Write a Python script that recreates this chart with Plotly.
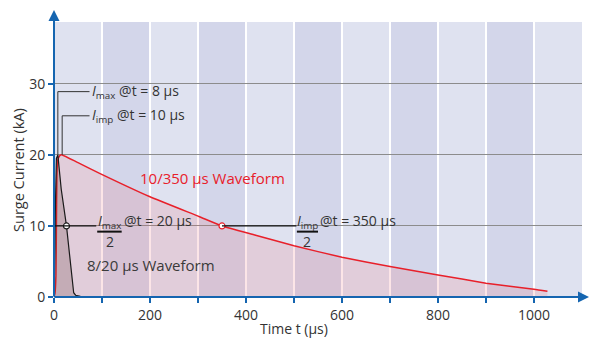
import plotly.graph_objects as go

# ---- data ----
t_10_350 = [0, 2, 4, 5, 6, 8, 12, 17, 50, 95, 200, 303, 350, 420, 500, 600, 700, 800, 900, 1000, 1028]
i_10_350 = [0, 0.5, 3, 10, 17, 19.3, 19.9, 20, 18.9, 17.4, 14.1, 11.3, 10, 8.7, 7.2, 5.6, 4.3, 3.1, 1.95, 1.1, 0.8]

t_8_20 = [0, 1, 2, 3, 4, 5, 8, 15, 26, 35, 41, 45, 55, 70]
i_8_20 = [0, 2, 7, 13, 17, 19.5, 20, 15.2, 10, 4.2, 0.6, 0.25, 0.1, 0.04]

peak_8_20 = (8, 20)
peak_10_350 = (17, 20)
half_8_20 = (26, 10)
half_10_350 = (350, 10)

x_ticks = list(range(0, 1001, 100))
x_tick_text = [str(v) if v % 200 == 0 else "" for v in x_ticks]
y_ticks = [0, 10, 20, 30]

X_MAX = 1100
Y_MAX = 38.7

FONT = "Open Sans"
FS = 14
TXT = "#333333"
BLUE = "#1565b0"
RED = "#e8202a"

fig = go.Figure()

# 10/350 waveform
fig.add_trace(go.Scatter(
    x=t_10_350, y=i_10_350, mode="lines",
    line=dict(color=RED, width=1.5, shape="spline", smoothing=0.4),
    fill="tozeroy", fillcolor="rgba(235,100,110,0.17)",
    hoverinfo="skip", showlegend=False))

# 8/20 waveform
fig.add_trace(go.Scatter(
    x=t_8_20, y=i_8_20, mode="lines",
    line=dict(color="#1a1a1a", width=1.2),
    fill="tozeroy", fillcolor="rgba(80,40,40,0.2)",
    hoverinfo="skip", showlegend=False))

# half-value markers
fig.add_trace(go.Scatter(
    x=[half_8_20[0]], y=[half_8_20[1]], mode="markers",
    marker=dict(size=6, color="white", line=dict(color="#1a1a1a", width=1.2)),
    showlegend=False, hoverinfo="skip"))
fig.add_trace(go.Scatter(
    x=[half_10_350[0]], y=[half_10_350[1]], mode="markers",
    marker=dict(size=6, color="white", line=dict(color=RED, width=1.2)),
    showlegend=False, hoverinfo="skip"))

shapes = []
# darker background stripes
for v in x_ticks:
    if (v // 100) % 2 == 1:
        shapes.append(dict(type="rect", xref="x", yref="y", x0=v, x1=v + 100, y0=0, y1=Y_MAX,
                           fillcolor="#d3d6ea", line=dict(width=0), layer="below"))

# leader lines
lead_end = 74
y_lead1 = 28.9
y_lead2 = 25.5
LC = "#333333"
shapes += [
    dict(type="line", xref="x", yref="y", x0=peak_8_20[0], x1=peak_8_20[0], y0=peak_8_20[1], y1=y_lead1,
         line=dict(color=LC, width=1)),
    dict(type="line", xref="x", yref="y", x0=peak_8_20[0], x1=lead_end, y0=y_lead1, y1=y_lead1,
         line=dict(color=LC, width=1)),
    dict(type="line", xref="x", yref="y", x0=peak_10_350[0], x1=peak_10_350[0], y0=peak_10_350[1], y1=y_lead2,
         line=dict(color=LC, width=1)),
    dict(type="line", xref="x", yref="y", x0=peak_10_350[0], x1=lead_end, y0=y_lead2, y1=y_lead2,
         line=dict(color=LC, width=1)),
    # half-value lines
    dict(type="line", xref="x", yref="y", x0=0, x1=88, y0=10, y1=10, line=dict(color="#111111", width=1.2)),
    dict(type="line", xref="x", yref="y", x0=350, x1=505, y0=10, y1=10, line=dict(color="#111111", width=1.2)),
    # fraction bars
    dict(type="line", xref="x", yref="y", x0=90, x1=141, y0=9.2, y1=9.2, line=dict(color="#111111", width=2)),
    dict(type="line", xref="x", yref="y", x0=506, x1=550, y0=9.2, y1=9.2, line=dict(color="#111111", width=2)),
]

ann = []
def txt(x, y, s, color=TXT, xanchor="left", size=FS, xref="x", yref="y", angle=0):
    ann.append(dict(x=x, y=y, xref=xref, yref=yref, text=s, showarrow=False,
                    xanchor=xanchor, yanchor="middle", textangle=angle,
                    font=dict(family=FONT, size=size, color=color)))

txt(74, y_lead1, "<i>I</i><sub>max</sub> @t = 8 µs")
txt(74, y_lead2, "<i>I</i><sub>imp</sub> @t = 10 µs")
txt(87, 10.6, "<i>I</i><sub>max</sub>")
txt(116, 7.8, "2", xanchor="center")
txt(142, 10.7, "@t = 20 µs")
txt(502, 10.6, "<i>I</i><sub>imp</sub>")
txt(528, 7.8, "2", xanchor="center")
txt(551, 10.7, "@t = 350 µs")
txt(176, 16.7, "10/350 µs Waveform", color=RED, size=15)
txt(65, 4.5, "8/20 µs Waveform", color="#3a3a3a", size=15)
txt(500, -0.113, "Time t (µs)", xanchor="center", yref="paper")
txt(-0.066, 17.9, "Surge Current (kA)", xanchor="center", xref="paper", angle=-90, size=14.5)

# axis arrows
ann.append(dict(x=0, y=1.044, xref="x", yref="paper", ax=0, ay=288, axref="pixel", ayref="pixel",
                showarrow=True, arrowhead=2, arrowsize=1.1, arrowwidth=2, arrowcolor=BLUE, text=""))
ann.append(dict(x=1.015, y=0, xref="paper", yref="y", ax=-537, ay=0,
                showarrow=True, arrowhead=2, arrowsize=1.1, arrowwidth=2, arrowcolor=BLUE, text=""))

fig.update_layout(
    width=590, height=338,
    margin=dict(l=54, r=8, t=22, b=41, autoexpand=False),
    paper_bgcolor="white", plot_bgcolor="#dfe2f0",
    shapes=shapes, annotations=ann,
    font=dict(family=FONT, size=FS, color=TXT),
    xaxis=dict(range=[0, X_MAX], tickvals=x_ticks, ticktext=x_tick_text,
               showgrid=True, gridcolor="white", gridwidth=1.5,
               showline=False, zeroline=False, automargin=False,
               ticks="outside", ticklen=5, tickwidth=1.5, tickcolor=BLUE,
               tickfont=dict(family=FONT, size=FS, color=TXT)),
    yaxis=dict(range=[0, Y_MAX], tickvals=y_ticks,
               showgrid=True, gridcolor="#8c8c8c", gridwidth=1,
               showline=False, zeroline=False, automargin=False,
               ticks="outside", ticklen=5, tickwidth=1.5, tickcolor=BLUE,
               tickfont=dict(family=FONT, size=FS, color=TXT)),
)

fig.write_html("out.html",
               config={"displayModeBar": False},
               post_script="document.body.style.margin='0';document.body.style.padding='0';"
                           "document.documentElement.style.overflow='hidden';")
